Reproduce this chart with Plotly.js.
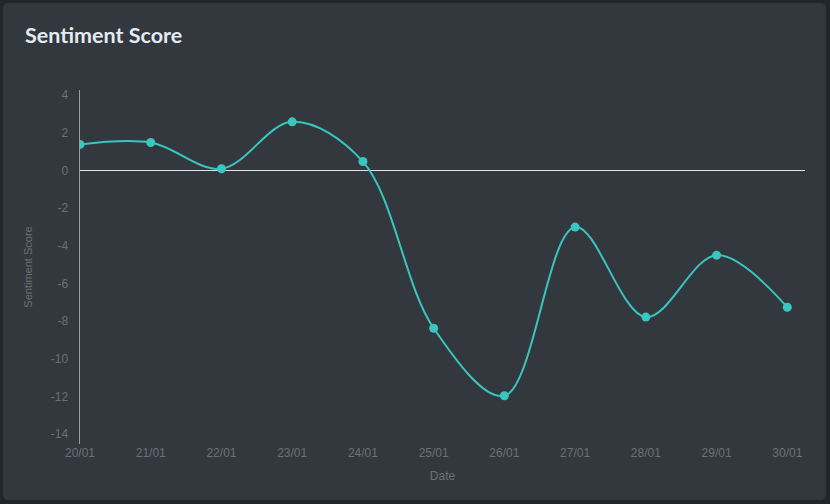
<!DOCTYPE html>
<html>
<head>
<meta charset="utf-8">
<script src="https://cdn.plot.ly/plotly-3.0.1.min.js"></script>
<style>
  html, body { margin: 0; padding: 0; background: #222529; width: 830px; height: 504px; overflow: hidden; }
  #card { position: absolute; left: 3px; top: 3px; width: 823px; height: 497px; background: #33383e; border-radius: 5px; }
  #chart { position: absolute; left: 0; top: 0; width: 830px; height: 504px; }
</style>
</head>
<body>
<div id="card"></div>
<div id="chart"></div>
<script>
const dates = ["20/01","21/01","22/01","23/01","24/01","25/01","26/01","27/01","28/01","29/01","30/01"];
const scores = [1.38, 1.48, 0.09, 2.58, 0.47, -8.38, -11.97, -3.01, -7.79, -4.5, -7.27];
const yTicks = [-14, -12, -10, -8, -6, -4, -2, 0, 2, 4];

const trace = {
  x: dates,
  y: scores,
  type: "scatter",
  mode: "lines+markers",
  line: { shape: "spline", smoothing: 1, color: "#38c6be", width: 2 },
  marker: { size: 9, color: "#38c6be" },
  hoverinfo: "x+y"
};

const tickFont = { family: "Liberation Sans, Arial, sans-serif", size: 12, color: "#6d7075" };

const layout = {
  width: 830,
  height: 504,
  paper_bgcolor: "rgba(0,0,0,0)",
  plot_bgcolor: "rgba(0,0,0,0)",
  margin: { l: 80, r: 25, t: 90, b: 60 },
  showlegend: false,
  title: {
    text: "<b>Sentiment Score</b>",
    font: { family: "Lato, Noto Sans, sans-serif", size: 21.5, color: "#e4ebf3" },
    x: 25 / 830, xref: "container", xanchor: "left",
    y: 1 - 35 / 504, yref: "container", yanchor: "middle"
  },
  xaxis: {
    type: "category",
    range: [0, 10.25],
    tickvals: dates,
    ticktext: dates,
    showgrid: false,
    zeroline: false,
    showline: false,
    ticks: "",
    tickfont: tickFont,
    title: { text: "Date", font: tickFont, standoff: 12 }
  },
  yaxis: {
    range: [-14.53, 4.27],
    tickvals: yTicks,
    ticktext: yTicks.map(String),
    showgrid: false,
    zeroline: true,
    zerolinecolor: "#e2e2e2",
    zerolinewidth: 1,
    showline: true,
    linecolor: "#9a9da1",
    linewidth: 1.5,
    ticks: "",
    ticklabelstandoff: 8,
    tickfont: tickFont,
    title: { text: "Sentiment Score", font: { family: "Liberation Sans, Arial, sans-serif", size: 11, color: "#6d7075" }, standoff: 16 }
  }
};

Plotly.newPlot("chart", [trace], layout, { displayModeBar: false, staticPlot: true });
</script>
</body>
</html>
